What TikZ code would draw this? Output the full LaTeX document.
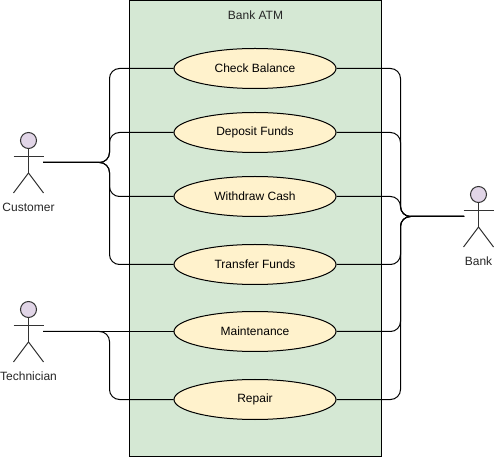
\documentclass[tikz,border=0pt]{standalone}
\usepackage{fontspec}
\setmainfont{Liberation Sans}
\usetikzlibrary{calc, shapes.geometric}
\definecolor{sysgreen}{HTML}{D5E8D4}
\definecolor{casecream}{HTML}{FFF2CC}
\definecolor{actorlilac}{HTML}{E1D5E7}
\definecolor{stickgray}{HTML}{333333}
\tikzset{
  usecase/.style={ellipse, draw=black, fill=casecream, line width=0.75pt,
    minimum width=121.5pt, minimum height=30pt, inner sep=0pt, font=\fontsize{9}{11}\selectfont},
  link/.style={black, line width=0.75pt, rounded corners=7.5pt},
  stick/.style={stickgray, line width=0.75pt},
  head/.style={circle, draw=stickgray, fill=actorlilac, line width=0.75pt,
    minimum size=12pt, inner sep=0pt},
  caption/.style={text=black!85, font=\fontsize{9}{11}\selectfont}
}

\begin{document}
\begin{tikzpicture}[x=0.75pt, y=-0.75pt]
\useasboundingbox (0,0) rectangle (496,459);

% System box
\fill[sysgreen] (129.5,0.5) rectangle (381.5,456.5);
\draw[black, line width=0.75pt] (129.5,0.5) rectangle (381.5,456.5);
\node[caption] (title) at (255.5,15) {Bank ATM};

% Use cases
\foreach \name/\txt/\y in {check/Check Balance/68.5, deposit/Deposit Funds/132.5,
    withdraw/Withdraw Cash/196.5, transfer/Transfer Funds/264.5,
    maint/Maintenance/331.5, repair/Repair/399.5} {
  \node[usecase] (\name) at (255,\y) {\txt};
}

% Actors
\foreach \name/\txt/\ax/\ay in {customer/Customer/28.5/140.5, bank/Bank/478.5/194.5,
    tech/Technician/28.5/309.5} {
  \node[head] (\name) at (\ax,\ay) {};
  \draw[stick] (\name.south) -- ++(0,24) coordinate (\name hip);
  \draw[stick] ($(\name hip)+(-15,20)$) -- (\name hip) -- ($(\name hip)+(15,20)$);
  \draw[stick] ($(\name)+(-15,16)$) -- ($(\name)+(15,16)$);
  \node[caption] (\name label) at (\ax,\ay+67) {\txt};
}

% Ports and bus corners
\coordinate (customerport) at (43,162.5);
\coordinate (customerbus) at (109.5,162.5);
\coordinate (techport) at (43,331.5);
\coordinate (techbus) at (109.5,331.5);
\coordinate (bankport) at (464,216.5);
\coordinate (bankbus) at (400.5,216.5);

% Connectors
\foreach \name in {check,deposit,withdraw,transfer} {
  \draw[link] (customerport) -- (customerbus) |- (\name.west);
}
\draw[link] (techport) -- (maint.west);
\draw[link] (techport) -- (techbus) |- (repair.west);
\foreach \name in {check,deposit,withdraw,transfer,maint,repair} {
  \draw[link] (bankport) -- (bankbus) |- (\name.east);
}

\end{tikzpicture}
\end{document}
